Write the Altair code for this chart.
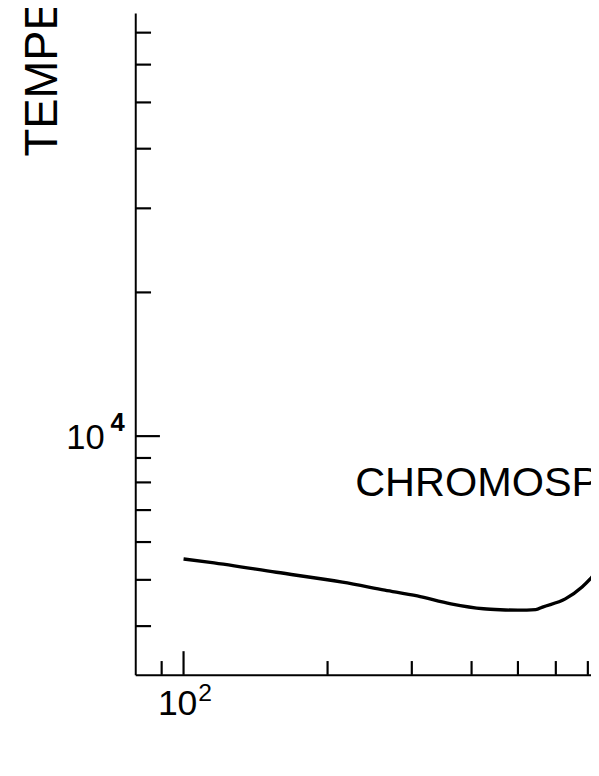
import altair as alt
import pandas as pd

# ---- data ----
HEIGHT_KM = [100, 113.7, 156.3, 214.8, 263.4, 308.1, 362.1, 423.6, 459.0, 500.0, 544.6, 562.9, 628.1, 680.8, 707.2, 740]
TEMP_K = [5530, 5440, 5186, 4944, 4760, 4626, 4454, 4349, 4329, 4320, 4332, 4385, 4561, 4829, 5015, 5300]

X_DOMAIN = [79.26, 710.7]
Y_DOMAIN = [3162, 76980]

X_MINOR_TICKS = [90, 200, 300, 400, 500, 600, 700]
X_MAJOR_TICKS = [100]
Y_MINOR_TICKS = [4000, 5000, 6000, 7000, 8000, 9000,
                 20000, 30000, 40000, 50000, 60000, 70000]
Y_MAJOR_TICKS = [10000]

X_LABEL_BASE = ["10"]
X_LABEL_EXP = ["2"]
Y_LABEL_BASE = ["10"]
Y_LABEL_EXP = ["4"]

REGION_LABEL = ["CHROMOSPHERE"]
REGION_X = [223.1]
REGION_Y = [7483]

Y_TITLE = "TEMPERATURE (K)"

FONT = "Liberation Sans"
INK = "#000000"
W, H = 462, 671

xs = alt.Scale(type="log", domain=X_DOMAIN, nice=False, zero=False)
ys = alt.Scale(type="log", domain=Y_DOMAIN, nice=False, zero=False)

x_axis = alt.Axis(domain=True, ticks=False, labels=False, grid=False, title=None,
                  domainColor=INK, domainWidth=2)
y_axis = alt.Axis(domain=True, ticks=False, labels=False, grid=False,
                  domainColor=INK, domainWidth=2,
                  titleAngle=270, titleAlign="left", titleBaseline="alphabetic",
                  titleX=-80, titleY=145, titleFont=FONT, titleFontSize=46,
                  titleFontWeight="normal", titleColor=INK)

curve = pd.DataFrame({"h": HEIGHT_KM, "t": TEMP_K})

line = alt.Chart(curve).mark_line(color=INK, strokeWidth=3.4, clip=True,
                                  interpolate="monotone").encode(
    x=alt.X("h:Q", scale=xs, axis=x_axis),
    y=alt.Y("t:Q", scale=ys, axis=y_axis, title=Y_TITLE),
)

def xticks(vals, length):
    return alt.Chart(pd.DataFrame({"h": vals})).mark_rule(color=INK, strokeWidth=2.2).encode(
        x=alt.X("h:Q", scale=xs, axis=x_axis),
        y=alt.value(H),
        y2=alt.value(H - length),
    )

def yticks(vals, length):
    return alt.Chart(pd.DataFrame({"t": vals})).mark_rule(color=INK, strokeWidth=2.2).encode(
        y=alt.Y("t:Q", scale=ys, axis=y_axis, title=Y_TITLE),
        x=alt.value(0),
        x2=alt.value(length),
    )

def label(text, xv, yv, size, align, dx, dy, weight="normal"):
    df = pd.DataFrame({"h": [xv], "t": [yv], "s": text})
    return alt.Chart(df).mark_text(
        font=FONT, fontSize=size, fontWeight=weight, color=INK,
        align=align, baseline="alphabetic", dx=dx, dy=dy,
    ).encode(
        x=alt.X("h:Q", scale=xs, axis=x_axis),
        y=alt.Y("t:Q", scale=ys, axis=y_axis, title=Y_TITLE),
        text="s:N",
    )

layers = [
    line,
    xticks(X_MINOR_TICKS, 14),
    xticks(X_MAJOR_TICKS, 24),
    yticks(Y_MINOR_TICKS, 16),
    yticks(Y_MAJOR_TICKS, 25),
    label(X_LABEL_BASE, X_MAJOR_TICKS[0], Y_DOMAIN[0], 36, "center", -6, 41),
    label(X_LABEL_EXP, X_MAJOR_TICKS[0], Y_DOMAIN[0], 25, "left", 15, 26),
    label(Y_LABEL_BASE, X_DOMAIN[0], Y_MAJOR_TICKS[0], 35, "right", -31, 13),
    label(Y_LABEL_EXP, X_DOMAIN[0], Y_MAJOR_TICKS[0], 26, "left", -25, -5, "bold"),
    label(REGION_LABEL, REGION_X[0], REGION_Y[0], 42, "left", 5, 0),
]

chart = alt.layer(*layers).properties(
    width=W, height=H,
    autosize=alt.AutoSizeParams(type="none"),
    padding={"left": 129, "top": 0, "right": 0, "bottom": 60},
    background="white",
).configure_view(stroke=None)

chart.save("out.html", embed_options={"renderer": "svg", "actions": False})
